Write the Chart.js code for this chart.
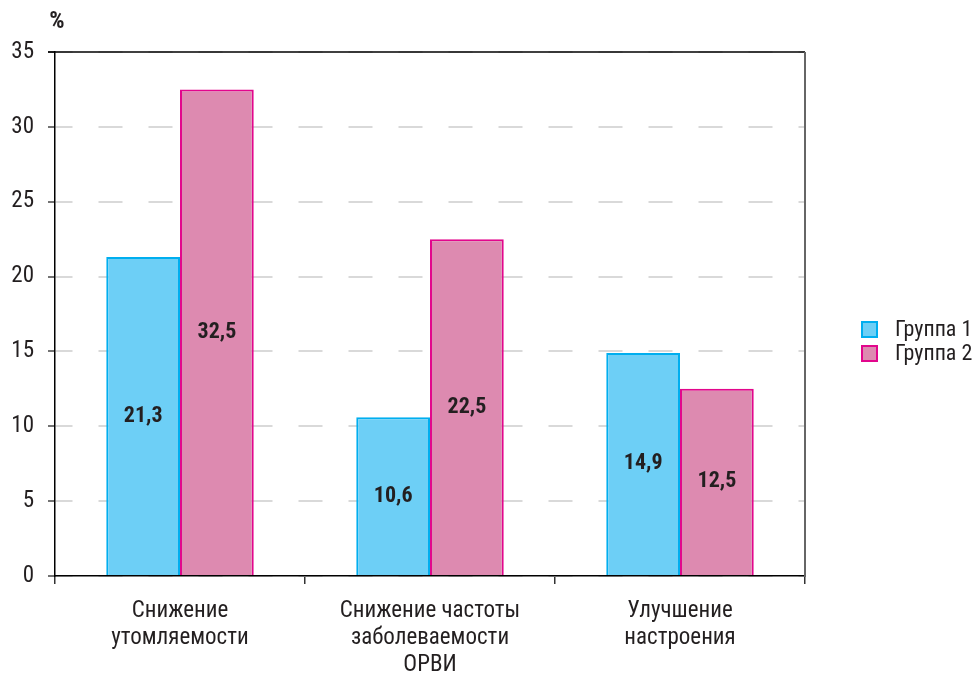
<!DOCTYPE html>
<html>
<head>
<meta charset="utf-8">
<script src="https://cdn.jsdelivr.net/npm/chart.js@4/dist/chart.umd.min.js"></script>
<style>
  html, body { margin: 0; padding: 0; background: #fff; }
</style>
</head>
<body>
<canvas id="c" width="978" height="673"></canvas>
<script>
// Categories (multi-line labels) and series values
const categories = [
  ["Снижение", "утомляемости"],
  ["Снижение частоты", "заболеваемости", "ОРВИ"],
  ["Улучшение", "настроения"]
];
const seriesNames = ["Группа 1", "Группа 2"];
const group1 = [21.3, 10.6, 14.9];
const group2 = [32.5, 22.5, 12.5];
const yMin = 0, yMax = 35, yStep = 5;
const unitLabel = "%";

const FONT = "'Roboto Condensed', 'Liberation Sans Narrow', Roboto, sans-serif";
const TEXT = "#231F20";
const fills = ["#6DCFF6", "#DD8AB0"];
const strokes = ["#00AEEF", "#E2068C"];

const fmt = v => v.toFixed(1).replace(".", ",");

// Value labels in the middle of each bar, frame lines, unit label and legend
const decorations = {
  id: "decorations",
  afterDatasetsDraw(chart) {
    const ctx = chart.ctx;
    ctx.save();
    ctx.font = "bold 22px " + FONT;
    ctx.fillStyle = TEXT;
    ctx.textAlign = "center";
    ctx.textBaseline = "middle";
    chart.data.datasets.forEach((ds, i) => {
      chart.getDatasetMeta(i).data.forEach((el, j) => {
        ctx.fillText(fmt(ds.data[j]), el.x, (el.y + el.base) / 2);
      });
    });
    ctx.restore();
  },
  afterDraw(chart) {
    const ctx = chart.ctx;
    const area = chart.chartArea;
    ctx.save();
    // top frame line (with its tick) and right frame line
    ctx.strokeStyle = "#000";
    ctx.lineWidth = 1.5;
    ctx.beginPath();
    ctx.moveTo(area.left - 7, area.top);
    ctx.lineTo(area.right, area.top);
    ctx.stroke();
    ctx.strokeStyle = "#666";
    ctx.lineWidth = 2;
    ctx.beginPath();
    ctx.moveTo(area.right, area.top);
    ctx.lineTo(area.right, area.bottom + 1);
    ctx.stroke();

    // unit label above the value axis
    ctx.font = "bold 24px " + FONT;
    ctx.fillStyle = TEXT;
    ctx.textAlign = "center";
    ctx.textBaseline = "middle";
    ctx.fillText(unitLabel, area.left + 2, area.top - 30);

    // legend
    const lx = 861, ly = 321, gap = 24, box = 17;
    chart.data.datasets.forEach((ds, i) => {
      const y = ly + i * gap;
      ctx.fillStyle = ds.backgroundColor;
      ctx.fillRect(lx, y, box, box);
      ctx.strokeStyle = ds.borderColor;
      ctx.lineWidth = 2;
      ctx.strokeRect(lx + 1, y + 1, box - 2, box - 2);
      ctx.font = "22px " + FONT;
      ctx.fillStyle = TEXT;
      ctx.textAlign = "left";
      ctx.textBaseline = "middle";
      ctx.fillText(ds.label, 895, y + box / 2 + 1);
    });
    ctx.restore();
  }
};

new Chart(document.getElementById("c"), {
  type: "bar",
  data: {
    labels: categories,
    datasets: [
      { label: seriesNames[0], data: group1, backgroundColor: fills[0], borderColor: strokes[0], borderWidth: 2 },
      { label: seriesNames[1], data: group2, backgroundColor: fills[1], borderColor: strokes[1], borderWidth: 2 }
    ]
  },
  options: {
    responsive: false,
    devicePixelRatio: 1,
    animation: false,
    categoryPercentage: 0.59,
    barPercentage: 1.0,
    layout: { padding: { top: 52, right: 173, left: 0, bottom: 0 } },
    plugins: {
      legend: { display: false },
      tooltip: { enabled: false }
    },
    scales: {
      x: {
        grid: { display: true, drawOnChartArea: false, offset: true, tickLength: 8, color: "#333", lineWidth: 1.5 },
        border: { color: "#000", width: 1.5 },
        ticks: { font: { family: FONT, size: 23, lineHeight: 1.17 }, color: TEXT, padding: 14, maxRotation: 0 },
        afterFit(s) { s.height = 97; }
      },
      y: {
        min: yMin, max: yMax,
        ticks: { stepSize: yStep, font: { family: FONT, size: 23 }, color: TEXT, padding: 14 },
        grid: { color: "#d9d9d9", lineWidth: 2, tickLength: 7, tickColor: "#444", tickWidth: 1.5, tickBorderDash: [] },
        border: { color: "#000", width: 1.5, dash: [24, 26], dashOffset: 7 },
        afterFit(s) { s.width = 55; }
      }
    }
  },
  plugins: [decorations]
});
</script>
</body>
</html>
